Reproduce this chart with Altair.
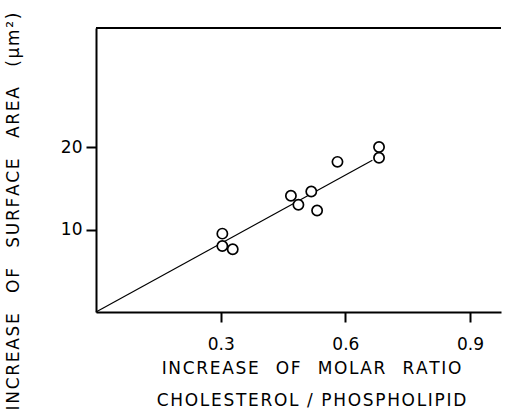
import altair as alt
import pandas as pd

molar_ratio = [0.304, 0.304, 0.329, 0.469, 0.487, 0.518, 0.532, 0.581, 0.681, 0.681]
surface_area = [9.5, 8.0, 7.6, 14.1, 13.0, 14.6, 12.3, 18.2, 20.0, 18.7]
fit_x = [0.0, 0.665]
fit_y = [0.0, 18.4]
x_ticks = [0.3, 0.6, 0.9]
y_ticks = [10, 20]
x_title_lines = ["INCREASE OF MOLAR RATIO", "CHOLESTEROL / PHOSPHOLIPID"]
y_title_text = "INCREASE OF SURFACE AREA (µm²)"


def spaced(text, letter="\u200a", word="\u2003"):
    words = text.split(" ")
    return word.join(letter.join(w) for w in words)


pts = pd.DataFrame({"x": molar_ratio, "y": surface_area})
fit = pd.DataFrame({"x": fit_x, "y": fit_y})

FONT = "DejaVu Sans"
W, H = 405, 284
xs = alt.Scale(domain=[0, W / 415.6], nice=False, zero=False)
ys = alt.Scale(domain=[0, H / 8.25], nice=False, zero=False)

xaxis = alt.Axis(values=x_ticks, format=".1f", grid=False, domainColor="black",
                 domainWidth=2, tickColor="black", tickWidth=2, tickSize=10,
                 labelFontSize=17, labelColor="black", labelFont=FONT, labelPadding=14,
                 title=[spaced(x_title_lines[0]), spaced(x_title_lines[1], word="\u2002")],
                 titleFont=FONT, titleFontSize=17, titleFontWeight="normal",
                 titleColor="black", titleX=215, titleY=48, titleAlign="center",
                 titleBaseline="top", titleLineHeight=32, titleAnchor="start")
yaxis = alt.Axis(values=y_ticks, grid=False, domainColor="black",
                 domainWidth=2, tickColor="black", tickWidth=2, tickSize=10,
                 labelFontSize=17, labelColor="black", labelFont=FONT, labelPadding=4,
                 title=spaced(y_title_text, word="\u2003\u2009"),
                 titleFont=FONT, titleFontSize=17, titleFontWeight="normal",
                 titleColor="black", titleX=-83, titleY=183, titleAngle=270,
                 titleAlign="center", titleBaseline="middle", titleAnchor="start")

line = alt.Chart(fit).mark_line(color="black", strokeWidth=1.2).encode(
    x=alt.X("x:Q", scale=xs, axis=xaxis),
    y=alt.Y("y:Q", scale=ys, axis=yaxis),
)
circles = alt.Chart(pts).mark_point(shape="circle", size=105, filled=True,
                                   fill="white", stroke="black", strokeWidth=1.7,
                                   opacity=1).encode(
    x=alt.X("x:Q", scale=xs),
    y=alt.Y("y:Q", scale=ys),
)
top = alt.Chart(fit).mark_rule(color="black", strokeWidth=2).encode(
    x=alt.value(0), x2=alt.value(W), y=alt.value(0)
)

chart = alt.layer(line, circles, top).properties(
    width=W, height=H,
    autosize=alt.AutoSizeParams(type="none"),
    padding={"left": 96, "top": 28, "right": 507 - 96 - W, "bottom": 419 - 28 - H},
).configure_view(stroke=None)

chart.save("out.html", embed_options={"renderer": "svg", "actions": False})
